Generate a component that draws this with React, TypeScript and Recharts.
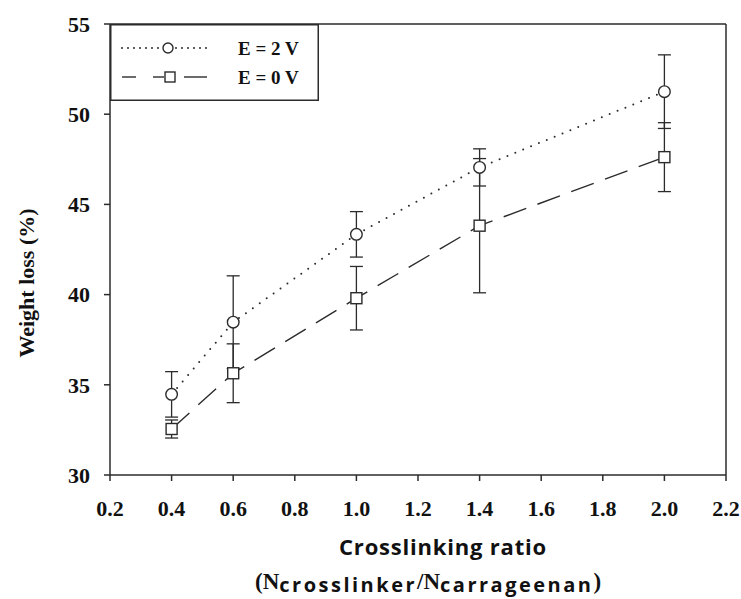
import { LineChart, Line, XAxis, YAxis, ErrorBar, ReferenceLine, Legend, Label } from "recharts"

// crosslinking ratio (N crosslinker / N carrageenan)
const ratios = [0.4, 0.6, 1.0, 1.4, 2.0]

// weight loss (%) with standard deviation, E = 2 V
const loss2V = [34.47, 38.47, 43.34, 47.05, 51.25]
const err2V = [1.26, 2.57, 1.26, 1.03, 2.04]

// weight loss (%) with standard deviation, E = 0 V
const loss0V = [32.55, 35.64, 39.8, 43.82, 47.62]
const err0V = [0.5, 1.63, 1.76, 3.72, 1.91]

const xTicks = [0.2, 0.4, 0.6, 0.8, 1.0, 1.2, 1.4, 1.6, 1.8, 2.0, 2.2]
const yTicks = [30, 35, 40, 45, 50, 55]

const data = ratios.map((r, i) => ({
  ratio: r,
  e2: loss2V[i],
  e2Err: err2V[i],
  e0: loss0V[i],
  e0Err: err0V[i],
}))

const INK = "#2b2b2b"
const SERIF = "'Liberation Serif', 'Times New Roman', serif"
const SANS = "'Open Sans', 'Liberation Sans', sans-serif"

const CircleDot = (props: any) => {
  const { cx, cy } = props
  if (cx == null || cy == null) return null
  return <circle cx={cx} cy={cy} r={5.8} fill="#fff" stroke={INK} strokeWidth={1.4} />
}

const SquareDot = (props: any) => {
  const { cx, cy } = props
  if (cx == null || cy == null) return null
  return <rect x={cx - 5.5} y={cy - 5.5} width={11} height={11} fill="#fff" stroke={INK} strokeWidth={1.4} />
}

// legend box sits in the upper-left corner of the plot frame
const LegendBox = () => (
  <svg width={209} height={77} style={{ display: "block" }}>
    <rect x={0.75} y={0.75} width={207.5} height={75.5} fill="#fff" stroke={INK} strokeWidth={1.5} />
    <line x1={12} y1={24} x2={102} y2={24} stroke={INK} strokeWidth={2} strokeDasharray="0 6" strokeLinecap="round" />
    <circle cx={58} cy={24} r={5} fill="#fff" stroke={INK} strokeWidth={1.4} />
    <text x={128} y={31} fontFamily={SERIF} fontWeight="bold" fontSize={19} fill="#111">E = 2 V</text>
    <line x1={12} y1={53} x2={26} y2={53} stroke={INK} strokeWidth={1.4} />
    <line x1={43} y1={53} x2={54} y2={53} stroke={INK} strokeWidth={1.4} />
    <line x1={74} y1={53} x2={97} y2={53} stroke={INK} strokeWidth={1.4} />
    <rect x={55} y={48} width={10} height={10} fill="#fff" stroke={INK} strokeWidth={1.4} />
    <text x={128} y={60} fontFamily={SERIF} fontWeight="bold" fontSize={19} fill="#111">E = 0 V</text>
  </svg>
)

const YTitle = () => (
  <text x={26} y={283} transform="rotate(-90 26 283)" textAnchor="middle" dominantBaseline="central"
    fontFamily={SERIF} fontWeight="bold" fontSize={22} fill="#111">
    Weight loss (%)
  </text>
)

const XTitle = () => (
  <g fontWeight="bold" fill="#111">
    <text x={443} y={555} textAnchor="middle" fontFamily={SANS} fontSize={22} letterSpacing={0.8}>
      Crosslinking ratio
    </text>
    <text x={255} y={589} fontSize={23}>
      <tspan fontFamily={SERIF}>(N</tspan>
      <tspan fontFamily={SANS} fontSize={20} letterSpacing={2.5} dy={3}>crosslinker</tspan>
      <tspan fontFamily={SERIF} dy={-3}>/N</tspan>
      <tspan fontFamily={SANS} fontSize={20} letterSpacing={2.5} dy={3}>carrageenan</tspan>
      <tspan fontFamily={SERIF} dy={-3}>)</tspan>
    </text>
  </g>
)

export default function App() {
  return (
    <div style={{ position: "absolute", left: 0, top: 0, background: "#fff" }}>
      <LineChart width={741} height={599} data={data} margin={{ top: 24, right: 15, bottom: 24, left: 40 }}>
        <XAxis
          dataKey="ratio"
          type="number"
          domain={[0.2, 2.2]}
          ticks={xTicks}
          tickFormatter={(v: number) => v.toFixed(1)}
          allowDataOverflow
          height={100}
          stroke={INK}
          strokeWidth={1.5}
          tickSize={6}
          tickMargin={19}
          tick={{ fill: "#111", fontFamily: SERIF, fontWeight: "bold", fontSize: 22 }}
        >
          <Label content={<XTitle />} />
        </XAxis>
        <YAxis
          type="number"
          domain={[30, 55]}
          ticks={yTicks}
          allowDataOverflow
          width={70}
          stroke={INK}
          strokeWidth={1.5}
          tickSize={6}
          tickMargin={14}
          tick={{ fill: "#111", fontFamily: SERIF, fontWeight: "bold", fontSize: 22 }}
        >
          <Label content={<YTitle />} />
        </YAxis>
        <ReferenceLine y={55} stroke={INK} strokeWidth={1.5} />
        <ReferenceLine x={2.2} stroke={INK} strokeWidth={1.5} />
        <Line
          dataKey="e2"
          stroke={INK}
          strokeWidth={2}
          strokeDasharray="0 8.5"
          strokeLinecap="round"
          dot={<CircleDot />}
          isAnimationActive={false}
        >
          <ErrorBar dataKey="e2Err" direction="y" width={6.5} stroke={INK} strokeWidth={1.3} />
        </Line>
        <Line
          dataKey="e0"
          stroke={INK}
          strokeWidth={1.4}
          strokeDasharray="24 12"
          dot={<SquareDot />}
          isAnimationActive={false}
        >
          <ErrorBar dataKey="e0Err" direction="y" width={6.5} stroke={INK} strokeWidth={1.3} />
        </Line>
        <Legend
          layout="horizontal"
          verticalAlign="middle"
          align="center"
          content={<LegendBox />}
          wrapperStyle={{ position: "absolute", left: 110, top: 24, width: 209, height: 77 }}
        />
      </LineChart>
    </div>
  )
}
